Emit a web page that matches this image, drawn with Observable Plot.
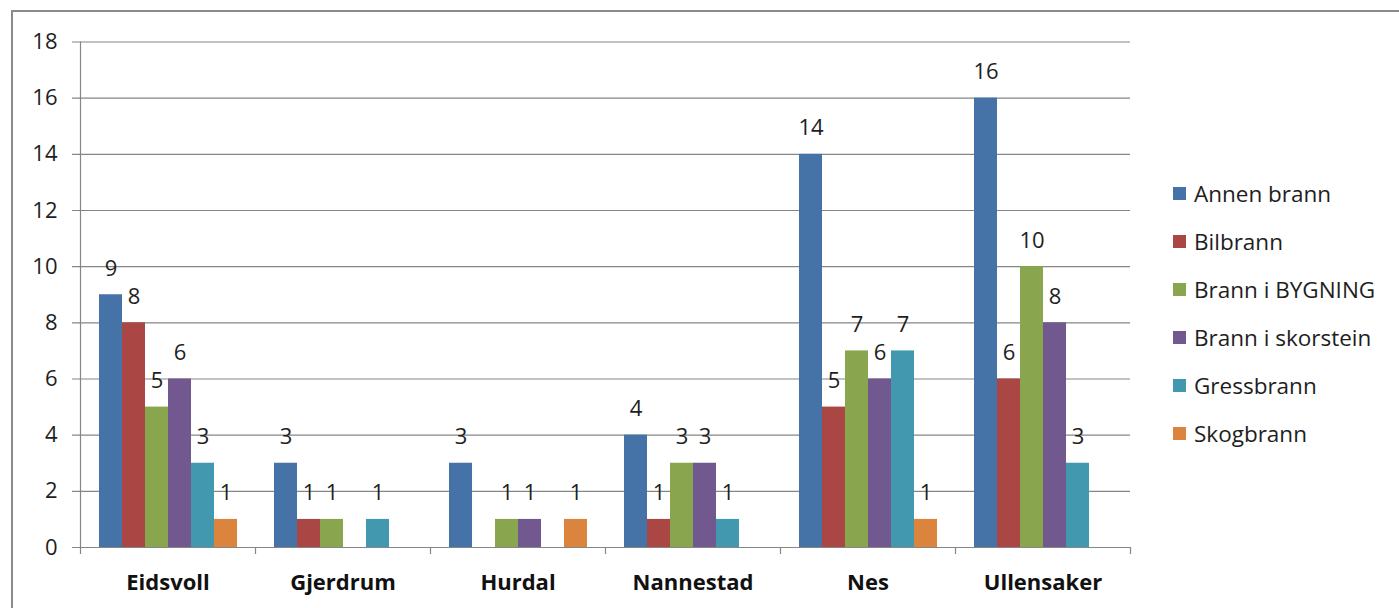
<!DOCTYPE html>
<html>
<head>
<meta charset="utf-8">
<script src="https://cdn.jsdelivr.net/npm/d3@7"></script>
<script src="https://cdn.jsdelivr.net/npm/@observablehq/plot@0.6"></script>
<style>
  body { margin: 0; background: #fff; }
  #chart { position: relative; width: 1399px; height: 608px; overflow: hidden; font-family: "Open Sans", sans-serif; }
  #chart svg { position: absolute; left: 0; top: 0; }
  #border { position: absolute; left: 11px; top: 10px; right: -5px; bottom: -5px;
            border-left: 2px solid #8a8a8a; border-top: 2px solid #8a8a8a; }
  #legend { position: absolute; left: 1173px; top: 169px; }
  .item { display: flex; align-items: center; height: 48px; font-size: 22.5px; color: #1e1e1e; white-space: nowrap; }
  .sw { width: 13px; height: 13px; margin-right: 8px; flex: none; }
</style>
</head>
<body>
<div id="chart"><div id="border"></div></div>
<script>
// Municipalities and fire types
const categories = ["Eidsvoll", "Gjerdrum", "Hurdal", "Nannestad", "Nes", "Ullensaker"];
const seriesNames = ["Annen brann", "Bilbrann", "Brann i BYGNING", "Brann i skorstein", "Gressbrann", "Skogbrann"];
const seriesColors = ["#4572A7", "#AA4643", "#89A54E", "#71588F", "#4198AF", "#DB843D"];

// Counts per municipality (null = no incidents, no bar)
const annenBrann      = [9, 3, 3, 4, 14, 16];
const bilbrann        = [8, 1, null, 1, 5, 6];
const brannIBygning   = [5, 1, 1, 3, 7, 10];
const brannISkorstein = [6, null, 1, 3, 6, 8];
const gressbrann      = [3, 1, null, 1, 7, 3];
const skogbrann       = [1, null, 1, null, 1, null];

const yTicks = [0, 2, 4, 6, 8, 10, 12, 14, 16, 18];

const seriesValues = [annenBrann, bilbrann, brannIBygning, brannISkorstein, gressbrann, skogbrann];
const rows = [];
seriesNames.forEach((type, i) => {
  categories.forEach((place, j) => {
    const count = seriesValues[i][j];
    if (count != null) rows.push({ place, type, count });
  });
});

const W = 1399, H = 608;
const margins = { marginLeft: 80, marginRight: 269, marginTop: 41.5, marginBottom: 61 };
const font = "'Open Sans', sans-serif";
const textColor = "#1e1e1e";
const gridColor = "#868686";

// Background layer: gridlines, value axis and category dividers
const back = Plot.plot({
  width: W, height: H, ...margins,
  style: { background: "transparent", fontFamily: font, color: textColor },
  x: { type: "linear", domain: [0, categories.length], axis: null },
  y: { domain: [0, 18], axis: null },
  marks: [
    Plot.ruleY(yTicks, { stroke: gridColor, strokeWidth: 1.2, insetLeft: -8 }),
    Plot.ruleX([0], { stroke: gridColor, strokeWidth: 1.2 }),
    Plot.axisX({ ticks: d3.range(categories.length + 1), tickFormat: () => "", tickSize: 7,
                 stroke: gridColor, strokeOpacity: 1, strokeWidth: 1.2 }),
    Plot.axisY({ ticks: yTicks, tickSize: 0, tickPadding: 23, fontSize: 22, fill: textColor })
  ]
});

// Foreground layer: grouped bars, value labels and municipality names
const front = Plot.plot({
  width: W, height: H, ...margins,
  style: { background: "transparent", fontFamily: font, color: textColor },
  fx: { domain: categories, paddingInner: 0.195, paddingOuter: 0.0975, label: null },
  x: { domain: seriesNames, padding: 0, axis: null },
  y: { domain: [0, 18], axis: null },
  color: { domain: seriesNames, range: seriesColors },
  marks: [
    Plot.barY(rows, { fx: "place", x: "type", y: "count", fill: "type" }),
    Plot.text(rows, { fx: "place", x: "type", y: "count", text: "count", dy: -26, fontSize: 22, fill: textColor }),
    Plot.axisFx({ anchor: "bottom", tickSize: 0, tickPadding: 27, fontSize: 22, fontWeight: "bold", fill: "#111", label: null })
  ]
});

const chart = document.getElementById("chart");
chart.appendChild(back);
chart.appendChild(front);

// Legend
const legend = document.createElement("div");
legend.id = "legend";
seriesNames.forEach((name, i) => {
  const item = document.createElement("div");
  item.className = "item";
  const sw = document.createElement("span");
  sw.className = "sw";
  sw.style.background = seriesColors[i];
  const label = document.createElement("span");
  label.textContent = name;
  item.appendChild(sw);
  item.appendChild(label);
  legend.appendChild(item);
});
chart.appendChild(legend);
</script>
</body>
</html>
